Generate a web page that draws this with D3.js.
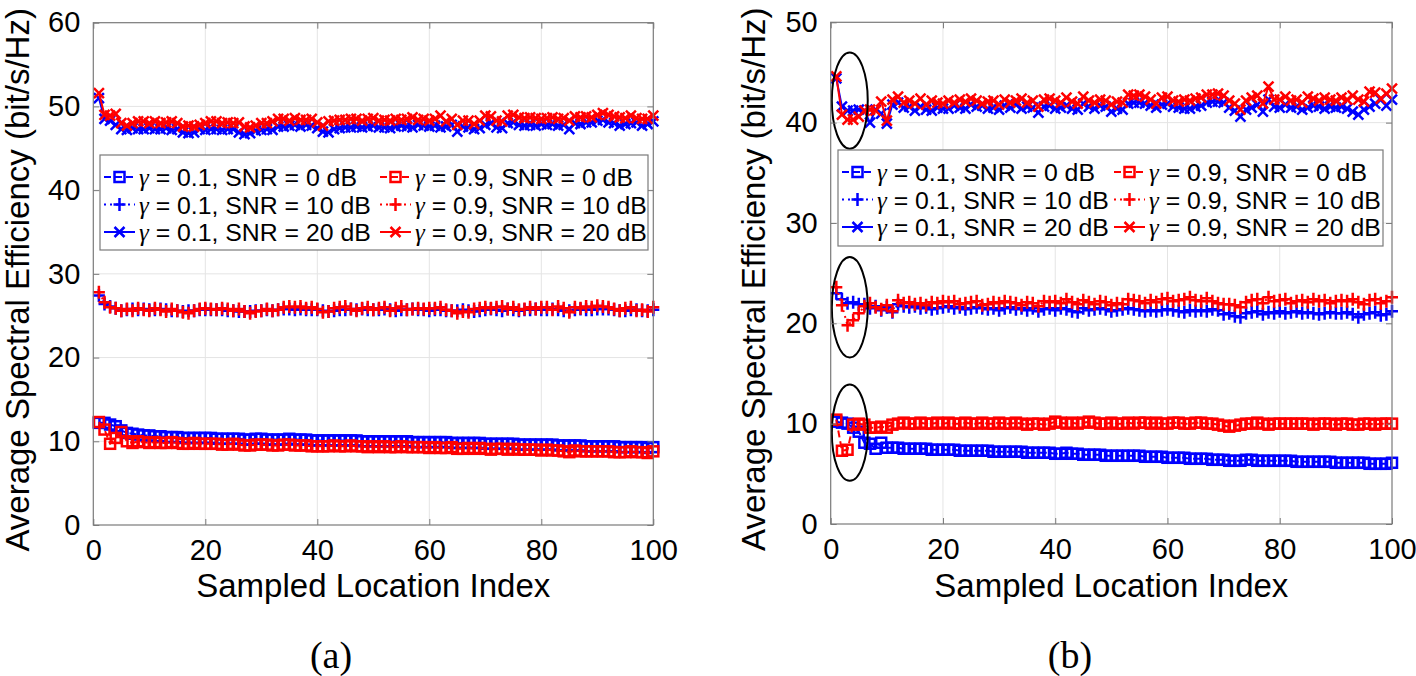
<!DOCTYPE html>
<html><head><meta charset="utf-8">
<script src="https://cdn.jsdelivr.net/npm/d3@7"></script>
<style>
body{margin:0;background:#fff}
svg{display:block}
text{font-family:"Liberation Sans", Arial, Helvetica, sans-serif;fill:#000}
</style>
</head><body>
<svg id="chart" width="1416" height="676"></svg>
<script>
// ---------- DATA ----------
const sampleIndex = d3.range(1, 101);
const xTickValues = [0, 20, 40, 60, 80, 100];
const yTickValuesA = [0, 10, 20, 30, 40, 50, 60];
const yTickValuesB = [0, 10, 20, 30, 40, 50];
const legendLabels = [
  ["0.1", "0"], ["0.1", "10"], ["0.1", "20"],
  ["0.9", "0"], ["0.9", "10"], ["0.9", "20"]
];
const xAxisTitle = "Sampled Location Index";
const yAxisTitle = "Average Spectral Efficiency (bit/s/Hz)";
const panelLabels = ["(a)", "(b)"];

// Panel (a)
const a_g01_snr0 = [12.2,12.2,12.0,11.8,11.3,11.0,10.9,10.8,10.7,10.7,
 10.6,10.6,10.5,10.5,10.5,10.4,10.4,10.4,10.4,10.4,
 10.4,10.3,10.3,10.3,10.3,10.3,10.2,10.2,10.3,10.3,
 10.2,10.2,10.2,10.2,10.3,10.2,10.2,10.2,10.1,10.1,
 10.1,10.1,10.1,10.1,10.1,10.1,10.1,10.0,10.0,10.0,
 10.0,10.0,10.0,10.0,10.0,10.0,9.9,9.9,9.9,9.9,
 9.9,9.9,9.9,9.8,9.8,9.8,9.8,9.8,9.8,9.7,
 9.7,9.7,9.7,9.7,9.7,9.6,9.6,9.6,9.6,9.6,
 9.6,9.6,9.5,9.5,9.5,9.5,9.5,9.4,9.4,9.4,
 9.4,9.4,9.4,9.3,9.3,9.3,9.3,9.3,9.2,9.3];
const a_g01_snr10 = [27.4,26.4,26.1,25.9,25.6,25.7,25.8,25.7,25.8,25.7,
 25.7,25.8,25.7,25.6,25.6,25.5,25.6,25.6,25.7,25.7,
 25.7,25.7,25.7,25.6,25.6,25.5,25.5,25.5,25.6,25.6,
 25.7,25.6,25.7,25.8,25.8,25.7,25.8,25.7,25.7,25.7,
 25.6,25.5,25.6,25.7,25.7,25.8,25.7,25.8,25.7,25.7,
 25.7,25.8,25.7,25.6,25.7,25.7,25.8,25.7,25.7,25.6,
 25.7,25.7,25.6,25.6,25.6,25.7,25.6,25.5,25.6,25.7,
 25.8,25.7,25.6,25.8,25.7,25.6,25.7,25.7,25.8,25.7,
 25.7,25.8,25.7,25.6,25.6,25.7,25.8,25.7,25.7,25.8,
 25.8,25.8,25.7,25.6,25.6,25.7,25.7,25.6,25.6,25.7];
const a_g01_snr20 = [51.0,48.5,48.3,47.8,47.3,47.2,47.4,47.3,47.3,47.4,
 47.3,47.3,47.4,47.2,47.3,46.9,46.8,46.9,47.3,47.2,
 47.3,47.3,47.2,47.3,47.3,46.9,46.7,46.8,47.1,47.2,
 47.3,47.2,47.6,47.6,47.7,47.8,47.6,47.8,47.7,47.4,
 47.0,46.9,47.3,47.4,47.5,47.5,47.6,47.5,47.6,47.7,
 47.5,47.5,47.4,47.6,47.7,47.6,47.5,47.8,47.7,47.6,
 47.7,47.5,47.6,47.8,47.0,47.6,47.5,47.3,47.4,47.8,
 48.0,47.5,47.4,48.0,48.1,47.8,47.7,47.8,47.7,47.9,
 47.8,47.9,47.7,47.8,47.3,48.0,47.9,48.1,48.1,48.3,
 48.4,48.1,48.0,47.7,47.9,48.0,48.1,47.7,47.9,48.2];
const a_g09_snr0 = [12.3,11.4,9.7,10.4,11.1,10.0,9.8,10.0,9.9,9.8,
 9.9,9.8,9.8,9.9,9.8,9.7,9.7,9.8,9.7,9.7,
 9.7,9.7,9.6,9.6,9.7,9.6,9.5,9.5,9.6,9.6,
 9.6,9.5,9.5,9.6,9.6,9.5,9.5,9.5,9.4,9.4,
 9.4,9.4,9.5,9.4,9.4,9.5,9.4,9.4,9.3,9.4,
 9.3,9.4,9.3,9.3,9.4,9.3,9.3,9.3,9.3,9.2,
 9.3,9.2,9.2,9.3,9.1,9.1,9.2,9.1,9.2,9.1,
 9.0,9.1,9.1,9.0,9.1,9.0,9.0,9.0,9.0,8.9,
 9.0,8.9,8.9,8.8,8.7,8.9,8.8,8.8,8.8,8.8,
 8.8,8.8,8.7,8.7,8.7,8.8,8.7,8.7,8.6,8.8];
const a_g09_snr10 = [27.8,26.6,26.0,25.9,25.6,25.8,25.6,25.9,25.7,25.6,
 25.9,25.7,25.5,25.8,25.6,25.4,25.3,25.6,25.8,25.9,
 25.8,25.7,25.9,25.8,25.6,25.8,25.5,25.3,25.5,25.6,
 25.8,25.6,25.7,26.0,26.1,26.0,26.1,25.9,26.0,25.8,
 25.4,25.5,25.9,26.0,26.1,25.8,25.6,25.9,26.0,25.7,
 25.9,26.0,25.6,25.9,26.1,25.7,25.8,25.9,25.8,25.9,
 25.9,26.0,25.7,25.6,25.3,25.5,25.4,25.8,25.9,26.0,
 25.9,26.0,26.1,25.8,26.0,25.7,25.8,26.0,25.8,26.0,
 26.0,25.7,26.1,25.9,25.4,26.0,25.9,26.1,26.0,26.2,
 26.1,26.0,25.8,25.6,25.9,26.0,25.6,25.7,25.5,26.0];
const a_g09_snr20 = [51.6,49.0,48.9,49.1,48.0,47.7,48.0,48.2,48.2,48.0,
 48.2,48.0,48.1,48.2,48.0,47.6,47.7,47.6,47.8,48.0,
 48.2,48.2,48.0,48.1,48.0,48.1,47.6,47.5,47.7,48.0,
 48.0,48.2,48.5,48.5,48.3,48.6,48.4,48.4,48.5,48.1,
 47.7,48.2,48.3,48.4,48.4,48.5,48.5,48.3,48.5,48.6,
 48.3,48.4,48.3,48.5,48.4,48.5,48.7,48.4,48.5,48.3,
 48.5,48.9,48.2,48.5,47.8,48.3,48.3,47.9,48.3,48.9,
 48.8,48.3,48.2,48.9,49.0,48.7,48.6,48.7,48.6,48.5,
 48.6,48.7,48.5,48.6,48.3,48.8,48.7,48.8,48.7,49.0,
 49.2,49.0,48.8,48.7,48.6,48.9,48.6,48.5,48.5,48.9];

// Panel (b)
const b_g01_snr0 = [10.2,10.1,10.0,9.6,9.2,8.1,8.0,7.5,8.1,7.6,
 7.6,7.6,7.5,7.5,7.5,7.5,7.5,7.4,7.4,7.4,
 7.4,7.4,7.3,7.3,7.3,7.3,7.3,7.3,7.2,7.2,
 7.2,7.2,7.2,7.2,7.1,7.1,7.1,7.1,7.1,7.0,
 7.0,7.1,7.0,7.0,6.9,6.9,6.9,6.9,6.8,6.8,
 6.8,6.8,6.8,6.8,6.8,6.7,6.7,6.7,6.7,6.6,
 6.6,6.6,6.6,6.5,6.5,6.5,6.5,6.4,6.4,6.4,
 6.3,6.3,6.3,6.4,6.4,6.3,6.3,6.3,6.3,6.3,
 6.3,6.3,6.2,6.2,6.2,6.2,6.2,6.2,6.2,6.1,
 6.1,6.1,6.1,6.1,6.1,6.0,6.0,6.0,6.0,6.1];
const b_g01_snr10 = [23.0,22.4,22.0,22.1,21.9,21.9,21.5,21.7,21.3,21.6,
 21.1,21.9,21.7,21.6,21.7,21.5,21.6,21.4,21.5,21.6,
 21.7,21.5,21.6,21.4,21.5,21.6,21.5,21.4,21.5,21.3,
 21.5,21.6,21.4,21.5,21.3,21.5,21.2,21.4,21.5,21.3,
 21.5,21.4,21.2,21.1,21.5,21.3,21.4,21.5,21.4,21.2,
 21.3,21.4,21.5,21.4,21.3,21.2,21.3,21.2,21.3,21.4,
 21.3,21.2,21.1,21.3,21.2,21.3,21.2,21.4,21.3,20.9,
 21.0,20.7,20.6,21.0,21.1,21.2,20.9,21.1,21.0,21.2,
 21.0,21.1,21.2,21.0,21.1,21.0,20.9,21.0,21.1,21.0,
 21.0,21.1,20.9,20.6,20.9,21.0,21.1,20.8,20.9,21.2];
const b_g01_snr20 = [44.4,41.6,41.2,41.2,41.3,41.2,40.0,41.3,40.9,39.9,
 41.8,42.0,41.5,41.6,41.2,41.6,41.3,41.2,41.5,41.4,
 41.4,41.7,41.5,41.4,41.8,41.6,41.7,41.4,41.5,41.3,
 41.7,41.5,41.8,41.4,41.6,41.5,41.0,41.6,41.7,41.4,
 41.5,41.7,41.4,41.3,41.9,41.6,41.4,41.7,41.6,41.1,
 41.4,41.3,41.9,42.0,42.0,41.9,41.7,41.5,41.8,41.9,
 41.6,41.5,41.4,41.4,41.6,41.7,42.0,42.1,42.1,42.0,
 41.5,41.2,40.6,41.3,41.5,41.8,41.1,42.3,41.6,41.5,
 41.8,41.5,41.6,41.3,41.5,41.7,41.6,41.4,41.6,41.5,
 41.6,41.4,41.1,40.8,41.3,41.6,41.9,42.3,41.7,42.3];
const b_g09_snr0 = [10.4,7.3,7.4,9.9,10.0,9.9,9.6,9.6,9.7,9.6,
 9.9,10.0,10.1,10.0,10.0,10.1,10.0,10.0,10.1,10.0,
 10.1,10.0,10.0,10.1,10.0,10.0,10.1,10.0,10.0,10.1,
 10.0,10.0,10.1,10.0,9.9,10.0,10.0,9.9,10.0,10.2,
 10.1,10.0,10.1,10.0,10.1,10.2,10.1,10.0,10.0,10.1,
 10.0,10.0,10.1,10.0,10.1,10.1,10.0,10.1,10.0,10.0,
 10.1,10.1,10.0,10.0,10.1,10.1,10.0,10.0,9.9,9.8,
 9.7,9.8,9.9,10.0,10.0,10.1,10.0,9.9,10.0,10.0,
 10.0,10.0,10.0,10.0,10.0,9.9,10.0,10.0,10.0,9.9,
 10.0,10.0,9.9,9.9,10.0,10.0,9.9,10.0,10.0,10.0];
const b_g09_snr10 = [23.6,21.8,19.8,20.3,21.0,21.7,22.0,21.6,21.4,21.8,
 21.2,22.3,22.0,22.1,21.9,22.0,21.8,22.1,22.0,22.2,
 22.1,22.2,21.9,22.0,22.1,22.2,21.8,21.9,22.1,22.0,
 22.2,22.1,22.0,21.8,22.1,22.0,21.7,22.2,22.1,22.2,
 22.0,22.4,22.1,21.9,22.3,22.1,21.9,22.2,22.1,21.8,
 22.0,21.9,22.4,22.3,22.2,22.0,22.3,22.1,22.4,22.5,
 22.2,22.3,22.4,22.6,22.3,22.2,22.5,22.2,22.0,21.9,
 21.9,21.8,21.6,22.1,22.3,22.4,22.0,22.6,22.2,22.3,
 22.4,22.0,22.2,22.3,22.1,22.4,22.2,22.3,22.0,22.2,
 22.3,22.2,22.4,22.1,21.9,22.3,22.4,22.0,22.2,22.6];
const b_g09_snr20 = [44.6,40.8,40.3,40.3,40.6,41.2,41.3,41.2,42.1,40.2,
 42.3,42.6,42.0,42.2,41.9,42.4,41.8,42.2,42.0,41.9,
 42.2,42.0,42.3,42.1,42.4,42.2,41.9,42.1,42.2,41.8,
 42.3,42.0,42.2,42.4,42.0,42.2,41.6,42.3,42.4,42.2,
 42.0,42.5,42.1,41.9,42.6,42.2,42.0,42.3,42.2,41.8,
 42.1,42.0,42.8,42.7,42.8,42.6,42.3,41.9,42.5,42.6,
 42.2,42.1,42.3,42.2,42.4,42.5,42.8,42.8,42.9,42.7,
 42.2,41.9,41.3,42.2,42.5,42.7,41.9,43.6,42.3,42.3,
 42.6,42.2,42.3,42.0,42.6,42.4,42.2,42.5,42.3,42.2,
 42.5,42.3,42.7,42.3,42.1,43.1,43.0,42.4,42.9,43.4];

// Ellipse annotations in panel (b): centre (index, value), half-width (index), half-height (value)
const ellipseCenters = [[3.4, 42.2], [3.4, 21.6], [3.4, 9.1]];
const ellipseRadii = [[3.2, 4.8], [3.2, 5.0], [3.2, 4.8]];

// ---------- STYLE ----------
const BLUE = "#0000ff", RED = "#ff0000";
const AXIS_COL = "#7a7a7a", GRID_COL = "#e4e4e4";
const seriesStyle = [
  {color: BLUE, dash: "7,4", marker: "square"},
  {color: BLUE, dash: "2,4", marker: "plus"},
  {color: BLUE, dash: null, marker: "x"},
  {color: RED, dash: "7,4", marker: "square"},
  {color: RED, dash: "2,4", marker: "plus"},
  {color: RED, dash: null, marker: "x"}
];

const svg = d3.select("#chart");

function drawMarker(g, type, cx, cy, color) {
  const sw = 2.5;
  if (type === "square") {
    g.append("rect").attr("x", cx - 5).attr("y", cy - 5).attr("width", 10).attr("height", 10)
      .attr("fill", "none").attr("stroke", color).attr("stroke-width", sw);
  } else if (type === "plus") {
    g.append("path").attr("d", `M${cx-6},${cy}H${cx+6}M${cx},${cy-6.5}V${cy+6.5}`)
      .attr("stroke", color).attr("stroke-width", sw).attr("fill", "none");
  } else {
    const r = 5;
    g.append("path").attr("d", `M${cx-r},${cy-r}L${cx+r},${cy+r}M${cx-r},${cy+r}L${cx+r},${cy-r}`)
      .attr("stroke", color).attr("stroke-width", sw).attr("fill", "none");
  }
}

function drawPanel(cfg) {
  const x = d3.scaleLinear().domain([0, 100]).range([cfg.left, cfg.right]);
  const y = d3.scaleLinear().domain([0, cfg.yMax]).range([cfg.bottom, cfg.top]);
  const g = svg.append("g");

  // grid
  g.selectAll(null).data(xTickValues.filter(t => t > 0 && t < 100)).join("line")
    .attr("x1", d => x(d)).attr("x2", d => x(d)).attr("y1", cfg.top).attr("y2", cfg.bottom)
    .attr("stroke", GRID_COL).attr("stroke-width", 1);
  g.selectAll(null).data(cfg.yTicks.filter(t => t > 0 && t < cfg.yMax)).join("line")
    .attr("y1", d => y(d)).attr("y2", d => y(d)).attr("x1", cfg.left).attr("x2", cfg.right)
    .attr("stroke", GRID_COL).attr("stroke-width", 1);

  // series
  const line = d3.line().x((d, i) => x(sampleIndex[i])).y(d => y(d));
  cfg.series.forEach((vals, k) => {
    const st = seriesStyle[k];
    const p = g.append("path").attr("d", line(vals)).attr("fill", "none")
      .attr("stroke", st.color).attr("stroke-width", 2).attr("stroke-linejoin", "round");
    if (st.dash) p.attr("stroke-dasharray", st.dash);
    const mg = g.append("g");
    vals.forEach((v, i) => drawMarker(mg, st.marker, x(sampleIndex[i]), y(v), st.color));
  });

  // ellipses
  (cfg.ellipses || []).forEach(([c, r]) => {
    g.append("ellipse").attr("cx", x(c[0])).attr("cy", y(c[1]))
      .attr("rx", x(r[0]) - x(0)).attr("ry", y(0) - y(r[1]))
      .attr("fill", "none").attr("stroke", "#000").attr("stroke-width", 2);
  });

  // axes
  const fs = 29;
  const bx = g.append("g").attr("transform", `translate(0,${cfg.bottom})`)
    .call(d3.axisBottom(x).tickValues(xTickValues).tickSize(-6).tickPadding(14));
  const tx = g.append("g").attr("transform", `translate(0,${cfg.top})`)
    .call(d3.axisTop(x).tickValues(xTickValues).tickSize(-6).tickFormat(""));
  const ly = g.append("g").attr("transform", `translate(${cfg.left},0)`)
    .call(d3.axisLeft(y).tickValues(cfg.yTicks).tickSize(-6).tickPadding(13));
  const ry = g.append("g").attr("transform", `translate(${cfg.right},0)`)
    .call(d3.axisRight(y).tickValues(cfg.yTicks).tickSize(-6).tickFormat(""));
  [bx, tx, ly, ry].forEach(a => {
    a.select(".domain").remove();
    a.attr("font-size", fs).attr("font-family", null);
    a.selectAll(".tick line").attr("stroke", AXIS_COL);
    a.selectAll(".tick text").attr("fill", "#1a1a1a");
  });
  g.append("rect").attr("x", cfg.left).attr("y", cfg.top)
    .attr("width", cfg.right - cfg.left).attr("height", cfg.bottom - cfg.top)
    .attr("fill", "none").attr("stroke", AXIS_COL).attr("stroke-width", 1.2);

  // titles
  g.append("text").attr("x", (cfg.left + cfg.right) / 2).attr("y", 597)
    .attr("text-anchor", "middle").attr("font-size", 33).attr("fill", "#1a1a1a").text(xAxisTitle);
  g.append("text").attr("transform", `translate(${cfg.yTitleX},${(cfg.top + cfg.bottom) / 2 + 6}) rotate(-90)`)
    .attr("text-anchor", "middle").attr("font-size", 33).attr("fill", "#1a1a1a").text(yAxisTitle);
  g.append("text").attr("x", cfg.labelX).attr("y", 668).attr("text-anchor", "middle")
    .attr("font-size", 38).style("font-family", "'Liberation Serif', 'DejaVu Serif', serif")
    .text(cfg.label);

  // legend
  const L = cfg.legend;
  const lg = g.append("g");
  lg.append("rect").attr("x", L.x).attr("y", L.y).attr("width", L.w).attr("height", L.h)
    .attr("fill", "#fff").attr("stroke", AXIS_COL).attr("stroke-width", 1.2);
  const rowY = [22, 49.5, 77];
  const colX = [0, L.col2];
  legendLabels.forEach((lab, k) => {
    const col = Math.floor(k / 3), row = k % 3;
    const ox = L.x + colX[col] + 4, oy = L.y + rowY[row];
    const st = seriesStyle[k];
    const sl = lg.append("line").attr("x1", ox).attr("x2", ox + 31).attr("y1", oy).attr("y2", oy)
      .attr("stroke", st.color).attr("stroke-width", 2);
    if (st.dash) sl.attr("stroke-dasharray", st.dash);
    drawMarker(lg, st.marker, ox + 15.5, oy, st.color);
    const t = lg.append("text").attr("x", ox + 35).attr("y", oy + 9).attr("font-size", 24.8).attr("fill", "#1a1a1a");
    t.append("tspan").style("font-family", "'Liberation Serif', serif").style("font-style", "italic").text("γ");
    t.append("tspan").text(` = ${lab[0]}, SNR = ${lab[1]} dB`);
  });
}

drawPanel({
  left: 93.3, right: 653.3, top: 22.7, bottom: 525, yMax: 60, yTicks: yTickValuesA,
  series: [a_g01_snr0, a_g01_snr10, a_g01_snr20, a_g09_snr0, a_g09_snr10, a_g09_snr20],
  legend: {x: 100, y: 155, w: 548, h: 95, col2: 276},
  yTitleX: 29, labelX: 331, label: panelLabels[0]
});
drawPanel({
  left: 830.7, right: 1392, top: 22.3, bottom: 524, yMax: 50, yTicks: yTickValuesB,
  series: [b_g01_snr0, b_g01_snr10, b_g01_snr20, b_g09_snr0, b_g09_snr10, b_g09_snr20],
  legend: {x: 838, y: 150, w: 545, h: 96, col2: 272},
  ellipses: ellipseCenters.map((c, i) => [c, ellipseRadii[i]]),
  yTitleX: 765, labelX: 1070, label: panelLabels[1]
});
</script>
</body></html>
